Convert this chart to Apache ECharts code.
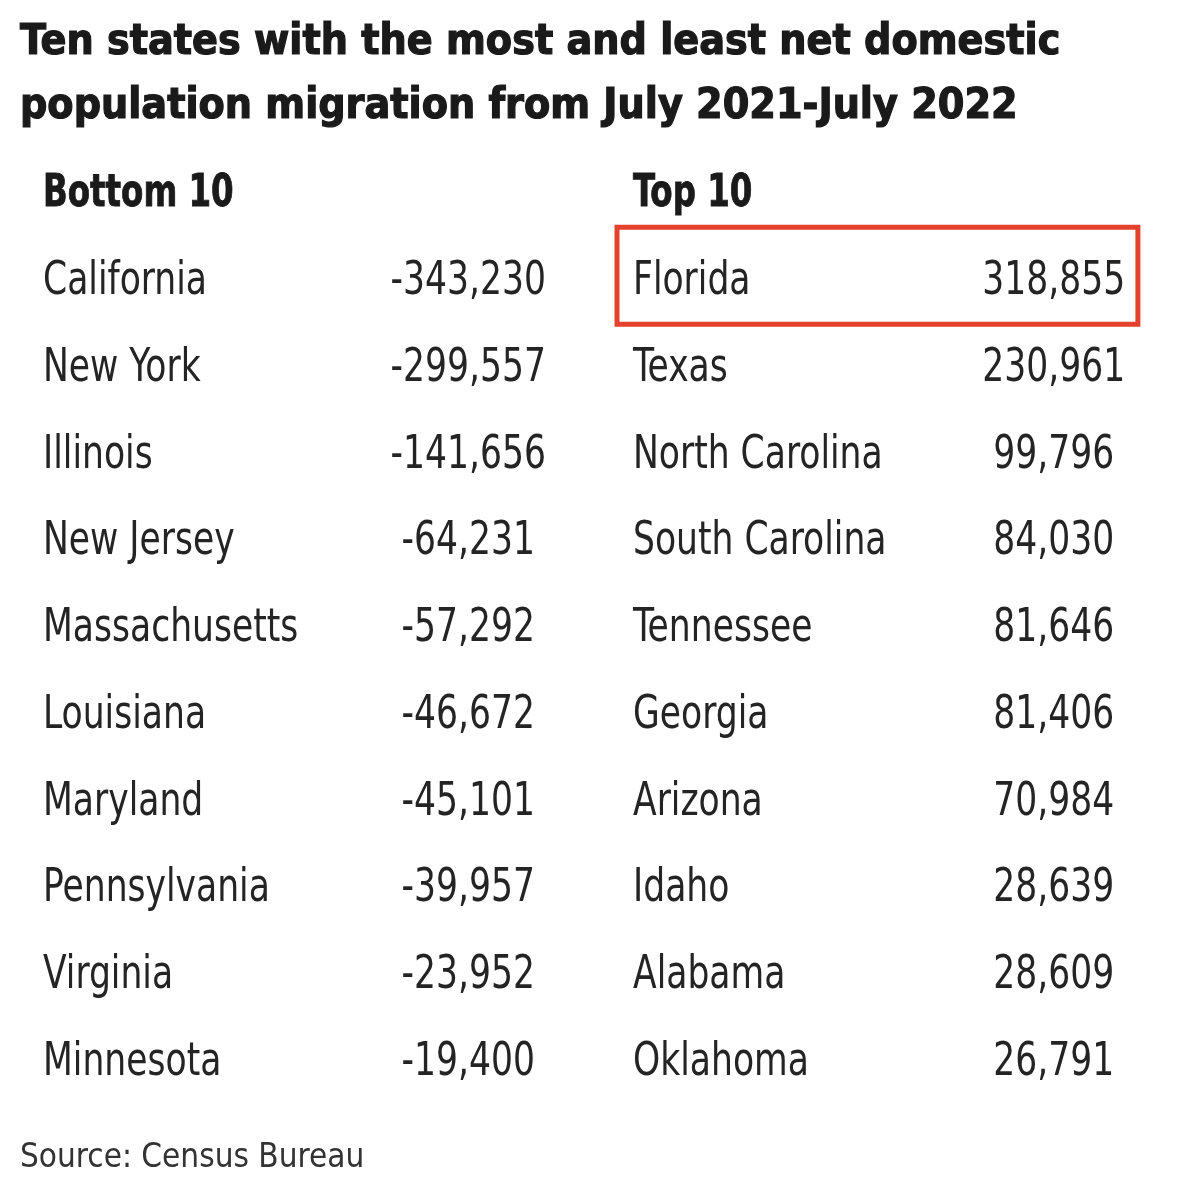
<!DOCTYPE html>
<html>
<head>
<meta charset="utf-8">
<script src="https://cdn.jsdelivr.net/npm/echarts@6/dist/echarts.min.js"></script>
<style>
html, body { margin: 0; padding: 0; background: #fff; }
#chart { width: 1178px; height: 1190px; }
</style>
</head>
<body>
<div id="chart"></div>
<script>
// table content
var titleText = 'Ten states with the most and least net domestic\npopulation migration from July 2021-July 2022';
var bottomHeader = 'Bottom 10';
var topHeader = 'Top 10';
var sourceText = 'Source: Census Bureau';
var columns = ['State', 'Net migration'];
var ranks = ['1', '2', '3', '4', '5', '6', '7', '8', '9', '10'];

var bottomStates = ['California', 'New York', 'Illinois', 'New Jersey', 'Massachusetts',
  'Louisiana', 'Maryland', 'Pennsylvania', 'Virginia', 'Minnesota'];
var bottomValues = [-343230, -299557, -141656, -64231, -57292, -46672, -45101, -39957, -23952, -19400];

var topStates = ['Florida', 'Texas', 'North Carolina', 'South Carolina', 'Tennessee',
  'Georgia', 'Arizona', 'Idaho', 'Alabama', 'Oklahoma'];
var topValues = [318855, 230961, 99796, 84030, 81646, 81406, 70984, 28639, 28609, 26791];

var highlighted = 'Florida';

var narrow = "'Liberation Sans Narrow', 'DejaVu Sans Condensed', 'Roboto Condensed', 'Liberation Sans', sans-serif";
var ink = '#242424';
// squeeze the condensed font a bit more, to get close to the narrow newspaper face
var squeeze = 0.835;

function fmt(v) { return v.toLocaleString('en-US'); }

function tableSeries(gridIndex, states, values) {
  var cells = [];
  states.forEach(function (s, i) {
    cells.push({ col: 0, row: i, text: s, state: s });
    cells.push({ col: 1, row: i, text: fmt(values[i]), state: s });
  });
  return {
    type: 'custom',
    xAxisIndex: gridIndex,
    yAxisIndex: gridIndex,
    silent: true,
    data: cells.map(function (c) { return [c.col, c.row]; }),
    renderItem: function (params, api) {
      var c = cells[params.dataIndex];
      var p = api.coord([c.col, c.row]);
      var bw = api.size([1, 0])[0];
      var label = {
        type: 'text',
        x: c.col === 0 ? p[0] - bw / 2 : p[0],
        y: p[1],
        scaleX: squeeze,
        style: {
          text: c.text,
          fill: ink,
          fontSize: 46,
          fontFamily: narrow,
          align: c.col === 0 ? 'left' : 'center',
          verticalAlign: 'middle'
        }
      };
      if (c.col === 0 && c.state === highlighted) {
        var x0 = p[0] - bw / 2 - 16;
        var x1 = p[0] + bw + bw * 0.3;
        return {
          type: 'group',
          children: [{
            type: 'rect',
            shape: { x: x0, y: p[1] - 55, width: x1 - x0, height: 97 },
            style: { fill: 'none', stroke: '#e4422d', lineWidth: 5 }
          }, label]
        };
      }
      return label;
    }
  };
}

function hiddenAxis(type, data, gridIndex, inverse) {
  return {
    type: type, data: data, gridIndex: gridIndex, inverse: !!inverse,
    axisLine: { show: false }, axisTick: { show: false },
    axisLabel: { show: false }, splitLine: { show: false }
  };
}

function header(text, x) {
  return {
    type: 'text', x: x, y: 195, scaleX: 0.82, silent: true,
    style: {
      text: text, fill: '#1a1a1a', fontSize: 44, fontWeight: 'bold', fontFamily: narrow,
      align: 'left', verticalAlign: 'middle', stroke: '#1a1a1a', lineWidth: 0.8
    }
  };
}

var chart = echarts.init(document.getElementById('chart'));
chart.setOption({
  backgroundColor: '#fff',
  animation: false,
  title: [{
    text: titleText, left: 20, top: 11, padding: 0,
    textStyle: {
      fontFamily: narrow, fontWeight: 'bold', fontSize: 42.5, lineHeight: 64, color: '#1a1a1a',
      textBorderColor: '#1a1a1a', textBorderWidth: 1.2
    }
  }, {
    text: sourceText, left: 20, top: 1140, padding: 0,
    textStyle: { fontFamily: narrow, fontWeight: 'normal', fontSize: 33, lineHeight: 36, color: '#333' }
  }],
  graphic: [header(bottomHeader, 43), header(topHeader, 633)],
  // the right table's value column runs a little past the canvas edge, so don't clamp the grids
  grid: [
    { left: 43, top: 239, width: 567, height: 867, outerBoundsMode: 'none' },
    { left: 633, top: 239, width: 561, height: 867, outerBoundsMode: 'none' }
  ],
  xAxis: [hiddenAxis('category', columns, 0), hiddenAxis('category', columns, 1)],
  yAxis: [hiddenAxis('category', ranks, 0, true), hiddenAxis('category', ranks, 1, true)],
  series: [
    tableSeries(0, bottomStates, bottomValues),
    tableSeries(1, topStates, topValues)
  ]
});
</script>
</body>
</html>
